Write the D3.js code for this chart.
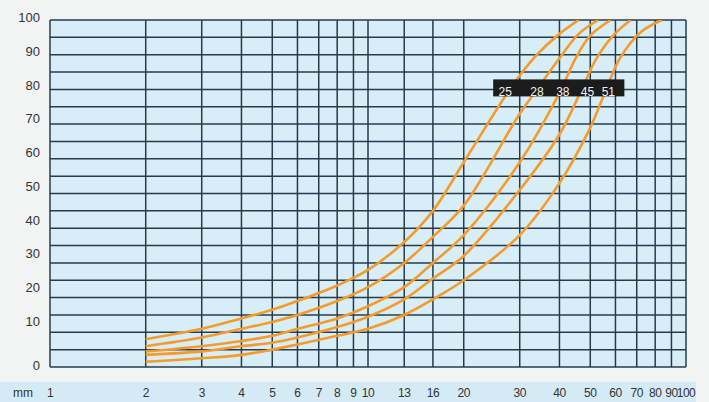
<!DOCTYPE html>
<html>
<head>
<meta charset="utf-8">
<script src="https://cdn.jsdelivr.net/npm/d3@7"></script>
<style>
  html, body { margin: 0; padding: 0; background: #f2f3f3; }
  svg { display: block; font-family: "Liberation Sans", Arial, sans-serif; }
</style>
</head>
<body>
<div id="viz"></div>
<script>
// sieve sizes (mm) used for the vertical grid and bottom labels
const sieveTicks = [1, 2, 3, 4, 5, 6, 7, 8, 9, 10, 13, 16, 20, 30, 40, 50, 60, 70, 80, 90, 100];
const sieveLabels = ["1", "2", "3", "4", "5", "6", "7", "8", "9", "10", "13", "16", "20", "30", "40", "50", "60", "70", "80", "90", "100"];
const percentTicks = [0, 10, 20, 30, 40, 50, 60, 70, 80, 90, 100];
const gridSteps = d3.range(0, 101, 5);

// curve names (max grain) and % passing at each sieve
const curveNames = ["25", "28", "38", "45", "51"];
const curveSieves = [
  [2, 3, 4, 5, 6, 8, 10, 13, 16, 20, 27, 30, 34, 40, 46],
  [2, 3, 4, 5, 6, 8, 10, 13, 16, 20, 30, 34, 40, 46, 53],
  [2, 3, 4, 5, 6, 8, 10, 13, 16, 20, 30, 40, 45, 50, 58],
  [2, 3, 4, 5, 6, 8, 10, 13, 16, 20, 30, 40, 47, 52, 59, 67],
  [2, 3, 4, 5, 6, 8, 10, 13, 16, 20, 30, 40, 50, 55, 62, 72, 84]
];
const curvePassing = [
  [8, 11, 14, 16.5, 19, 23.5, 28, 36, 45, 59, 78, 84, 90, 96, 100],
  [6, 8.5, 11, 13, 15, 19, 23, 30, 37.5, 46.5, 73, 80, 89, 96, 100],
  [4.5, 6, 7.5, 9, 11, 14, 17.5, 23, 30, 38, 59, 79, 89, 95.5, 100],
  [3.5, 4.5, 6, 7, 8.5, 11.5, 14.5, 19.5, 25.5, 32, 51, 67, 80, 88.5, 95.5, 100],
  [1.5, 2.5, 3.5, 5, 6.5, 9, 11, 15, 19.5, 25, 38, 53, 69, 78, 89, 96.5, 100]
];
// where each name sits in the dark label strip (mm)
const labelAt = [27, 34, 41, 49, 57];

const W = 709, H = 402;
const x = d3.scaleLog().domain([1, 100]).range([50, 686]);
const y = d3.scaleLinear().domain([0, 100]).range([367, 20]);
// the printed percent labels drift a little above their lines
const yLabel = d3.scaleLinear().domain([0, 10, 100]).range([370, 326, 22]);

const svg = d3.select('#viz').append('svg')
  .attr('width', W)
  .attr('height', H);

// page background
svg.append('rect').attr('width', W).attr('height', H).attr('fill', '#f2f3f3');

// bottom band for the mm labels
svg.append('rect')
  .attr('x', 0).attr('y', 382)
  .attr('width', 696).attr('height', 20)
  .attr('fill', '#d4ebf6');

// plot area
svg.append('rect')
  .attr('x', x(1)).attr('y', y(100))
  .attr('width', x(100) - x(1)).attr('height', y(0) - y(100))
  .attr('fill', '#d7edf7');

svg.append('clipPath').attr('id', 'plot')
  .append('rect')
  .attr('x', x(1)).attr('y', y(100))
  .attr('width', x(100) - x(1)).attr('height', y(0) - y(100));

const grid = svg.append('g').attr('stroke', '#263c4c').attr('stroke-width', 1.5);

grid.selectAll('line.h')
  .data(gridSteps)
  .join('line')
  .attr('class', 'h')
  .attr('x1', x(1)).attr('x2', x(100))
  .attr('y1', d => y(d)).attr('y2', d => y(d));

grid.selectAll('line.v')
  .data(sieveTicks)
  .join('line')
  .attr('class', 'v')
  .attr('x1', d => x(d)).attr('x2', d => x(d))
  .attr('y1', y(0)).attr('y2', y(100));

// curves
const line = d3.line()
  .x(d => x(d[0]))
  .y(d => y(d[1]))
  .curve(d3.curveCatmullRom.alpha(0.5));

svg.append('g')
  .attr('clip-path', 'url(#plot)')
  .selectAll('path')
  .data(curveNames.map((n, i) => curveSieves[i].map((s, j) => [s, curvePassing[i][j]])))
  .join('path')
  .attr('fill', 'none')
  .attr('stroke', '#f59b2c')
  .attr('stroke-width', 2.6)
  .attr('d', line);

// dark label strip at 80 %
const strip = svg.append('g');
strip.append('rect')
  .attr('x', x(labelAt[0]) - 12).attr('y', y(80) - 10)
  .attr('width', x(labelAt[labelAt.length - 1]) - x(labelAt[0]) + 28)
  .attr('height', 17)
  .attr('fill', '#1c1c1c');
strip.selectAll('text')
  .data(curveNames)
  .join('text')
  .attr('x', (d, i) => x(labelAt[i]))
  .attr('y', y(80) + 3)
  .attr('text-anchor', 'middle')
  .attr('dominant-baseline', 'middle')
  .attr('fill', '#f2f2f2')
  .style('font-size', '12px')
  .text(d => d);

// percent labels
svg.append('g')
  .selectAll('text')
  .data(percentTicks)
  .join('text')
  .attr('x', 40)
  .attr('y', d => yLabel(d))
  .attr('text-anchor', 'end')
  .attr('fill', '#333')
  .style('font-size', '13px')
  .text(d => d);

// mm labels
svg.append('text')
  .attr('x', 13).attr('y', 397)
  .attr('fill', '#333')
  .style('font-size', '12px')
  .text('mm');

svg.append('g')
  .selectAll('text')
  .data(sieveTicks)
  .join('text')
  .attr('x', d => x(d))
  .attr('y', 397)
  .attr('text-anchor', 'middle')
  .attr('fill', '#333')
  .style('font-size', '12px')
  .style('letter-spacing', '-0.5px')
  .text((d, i) => sieveLabels[i]);
</script>
</body>
</html>
